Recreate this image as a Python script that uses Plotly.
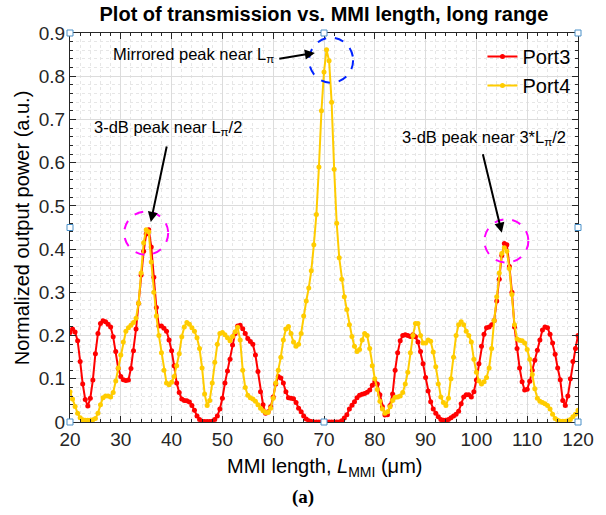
import numpy as np
import plotly.graph_objects as go

# MMI length axis (um), 0.5 um step
mmi_length = [20 + 0.5 * i for i in range(201)]

port3 = [
    0.207, 0.215, 0.208, 0.188, 0.140, 0.088, 0.052, 0.037, 0.055, 0.097,
    0.158, 0.205, 0.228, 0.234, 0.232, 0.226, 0.220, 0.197, 0.163, 0.124,
    0.105, 0.098, 0.096, 0.097, 0.124, 0.165, 0.215, 0.275, 0.340, 0.395,
    0.435, 0.445, 0.405, 0.335, 0.265, 0.222, 0.222, 0.217, 0.210, 0.190,
    0.165, 0.130, 0.090, 0.068, 0.053, 0.050, 0.049, 0.046, 0.038, 0.027,
    0.014, 0.006, 0.002, 0.001, 0.001, 0.001, 0.002, 0.006, 0.014, 0.030,
    0.055, 0.090, 0.118, 0.145, 0.178, 0.205, 0.222, 0.224, 0.216, 0.205,
    0.193, 0.186, 0.180, 0.155, 0.117, 0.070, 0.040, 0.020, 0.024, 0.035,
    0.058, 0.088, 0.105, 0.102, 0.090, 0.070, 0.056, 0.055, 0.054, 0.045,
    0.032, 0.024, 0.014, 0.007, 0.003, 0.001, 0.000, 0.000, 0.000, 0.000,
    0.000, 0.000, 0.000, 0.000, 0.000, 0.000, 0.000, 0.003, 0.009, 0.017,
    0.030, 0.039, 0.047, 0.056, 0.062, 0.064, 0.066, 0.069, 0.074, 0.085,
    0.093, 0.088, 0.063, 0.035, 0.016, 0.017, 0.038, 0.065, 0.120, 0.160,
    0.188, 0.200, 0.202, 0.200, 0.198, 0.202, 0.197, 0.185, 0.163, 0.135,
    0.103, 0.072, 0.047, 0.030, 0.020, 0.012, 0.006, 0.004, 0.004, 0.006,
    0.010, 0.014, 0.018, 0.025, 0.042, 0.058, 0.063, 0.063, 0.058, 0.070,
    0.097, 0.135, 0.175, 0.203, 0.218, 0.220, 0.225, 0.235, 0.280, 0.330,
    0.385, 0.413, 0.410, 0.360, 0.300, 0.220, 0.170, 0.125, 0.093, 0.074,
    0.076, 0.094, 0.120, 0.143, 0.166, 0.190, 0.213, 0.220, 0.218, 0.203,
    0.183, 0.157, 0.125, 0.098, 0.050, 0.038, 0.060, 0.100, 0.140, 0.170,
    0.200,
]

port4 = [
    0.070, 0.053, 0.036, 0.020, 0.010, 0.005, 0.004, 0.004, 0.004, 0.005,
    0.008, 0.020, 0.040, 0.056, 0.060, 0.060, 0.058, 0.068, 0.095, 0.125,
    0.155, 0.185, 0.210, 0.218, 0.224, 0.230, 0.240, 0.275, 0.345, 0.415,
    0.445, 0.440, 0.370, 0.300, 0.245, 0.200, 0.160, 0.120, 0.090, 0.086,
    0.092, 0.105, 0.130, 0.158, 0.197, 0.220, 0.230, 0.226, 0.218, 0.210,
    0.195, 0.170, 0.125, 0.065, 0.038, 0.050, 0.090, 0.138, 0.180, 0.205,
    0.207, 0.202, 0.195, 0.188, 0.198, 0.209, 0.219, 0.190, 0.120, 0.080,
    0.062, 0.056, 0.053, 0.048, 0.040, 0.032, 0.026, 0.022, 0.022, 0.032,
    0.055, 0.090, 0.120, 0.150, 0.190, 0.215, 0.221, 0.205, 0.185, 0.175,
    0.180, 0.205, 0.245, 0.280, 0.310, 0.350, 0.410, 0.480, 0.590, 0.720,
    0.810, 0.861, 0.836, 0.740, 0.585, 0.460, 0.380, 0.330, 0.290, 0.260,
    0.225, 0.198, 0.175, 0.163, 0.168, 0.190, 0.205, 0.200, 0.170, 0.130,
    0.100, 0.075, 0.048, 0.030, 0.020, 0.024, 0.035, 0.050, 0.057, 0.058,
    0.060, 0.068, 0.088, 0.115, 0.160, 0.200, 0.228, 0.228, 0.200, 0.183,
    0.183, 0.190, 0.187, 0.162, 0.128, 0.088, 0.058, 0.045, 0.038, 0.055,
    0.100, 0.150, 0.200, 0.225, 0.232, 0.225, 0.210, 0.200, 0.185, 0.145,
    0.115, 0.095, 0.088, 0.093, 0.103, 0.125, 0.170, 0.235, 0.290, 0.345,
    0.390, 0.403, 0.395, 0.355, 0.295, 0.225, 0.192, 0.189, 0.188, 0.183,
    0.168, 0.145, 0.110, 0.077, 0.055, 0.048, 0.045, 0.042, 0.038, 0.030,
    0.018, 0.008, 0.004, 0.002, 0.002, 0.002, 0.003, 0.006, 0.012, 0.018,
    0.027,
]

x_ticks = [20, 30, 40, 50, 60, 70, 80, 90, 100, 110, 120]
y_ticks = [0, 0.1, 0.2, 0.3, 0.4, 0.5, 0.6, 0.7, 0.8, 0.9]

RED = "#FF0000"
GOLD = "#FFCC00"
AX = "#262626"
FONT = "Liberation Sans, Arial, sans-serif"

fig = go.Figure()
fig.add_trace(go.Scatter(x=mmi_length, y=port3, mode="lines+markers", name="Port3",
                         line=dict(color=RED, width=2), marker=dict(color=RED, size=5)))
fig.add_trace(go.Scatter(x=mmi_length, y=port4, mode="lines+markers", name="Port4",
                         line=dict(color=GOLD, width=2), marker=dict(color=GOLD, size=5)))

axis_common = dict(
    showline=True, linecolor=AX, linewidth=1, mirror="allticks",
    ticks="inside", ticklen=6, tickcolor=AX, tickwidth=1,
    showgrid=True, gridcolor="#dcdcdc", gridwidth=1, zeroline=False,
    tickfont=dict(family=FONT, size=19, color=AX),
)

fig.update_xaxes(range=[20, 120], tickvals=x_ticks, ticktext=[str(v) for v in x_ticks],
                 minor=dict(dtick=2, ticks="inside", ticklen=3, tickcolor=AX,
                            showgrid=True, gridcolor="#e6e6e6", griddash="dot"),
                 **axis_common)
fig.update_yaxes(range=[0, 0.9], tickvals=y_ticks, ticktext=["0"] + [f"{v:.1f}" for v in y_ticks[1:]],
                 minor=dict(dtick=0.02, ticks="inside", ticklen=3, tickcolor=AX,
                            showgrid=True, gridcolor="#e6e6e6", griddash="dot"),
                 **axis_common)

fig.update_layout(
    width=606, height=515,
    margin=dict(l=70, r=28, t=33, b=93),
    paper_bgcolor="white", plot_bgcolor="white",
    font=dict(family=FONT, color=AX),
    title=dict(text="<b>Plot of transmission vs. MMI length, long range</b>",
               x=0.5, xref="paper", xanchor="center", y=0.972, yref="container",
               yanchor="middle", font=dict(family=FONT, size=20, color="black")),
    showlegend=True,
    legend=dict(x=0.995, y=0.99, xanchor="right", yanchor="top",
                bgcolor="rgba(255,255,255,0)", font=dict(family=FONT, size=20, color="black"),
                itemwidth=30, tracegroupgap=0),
)

annots = []
# axis titles
annots.append(dict(text="MMI length, <i>L</i><sub>MMI</sub> (μm)", xref="paper", yref="paper",
                   x=0.5, y=-0.118, xanchor="center", yanchor="middle", showarrow=False,
                   font=dict(family=FONT, size=20, color="black")))
annots.append(dict(text="Normalized output power (a.u.)", xref="paper", yref="paper",
                   x=-0.095, y=0.5, xanchor="center", yanchor="middle", textangle=-90,
                   showarrow=False, font=dict(family=FONT, size=20, color="black")))
annots.append(dict(text="<b>(a)</b>", xref="paper", yref="paper", x=0.459, y=-0.193,
                   xanchor="center", yanchor="middle", showarrow=False,
                   font=dict(family="Liberation Serif, Times New Roman, serif", size=19, color="black")))

# peak locations derived from data
p4 = np.array(port4)
xs = np.array(mmi_length)
def peak_in(lo, hi, arr):
    m = (xs >= lo) & (xs <= hi)
    i = np.argmax(np.where(m, arr, -1))
    return xs[i], arr[i]

pk_mid = peak_in(60, 80, p4)
pk_l = peak_in(30, 40, p4)
pk_r = peak_in(100, 110, np.array(port3))

txt_font = dict(family=FONT, size=16.5, color="black")
annots.append(dict(text="Mirrored peak near L<sub>π</sub>", x=60.6, y=0.848, xref="x", yref="y",
                   xanchor="right", yanchor="middle", showarrow=False, font=txt_font))
annots.append(dict(text="", x=pk_mid[0] - 2.3, y=pk_mid[1] - 0.007, ax=60.9, ay=0.840,
                   xref="x", yref="y", axref="x", ayref="y", showarrow=True,
                   arrowhead=2, arrowsize=1, arrowwidth=2, arrowcolor="black"))
annots.append(dict(text="3-dB peak near L<sub>π</sub>/2", x=39.3, y=0.68, xref="x", yref="y",
                   xanchor="center", yanchor="middle", showarrow=False, font=txt_font))
annots.append(dict(text="", x=pk_l[0] + 0.9, y=pk_l[1] + 0.018, ax=39.1, ay=0.641,
                   xref="x", yref="y", axref="x", ayref="y", showarrow=True,
                   arrowhead=2, arrowsize=1, arrowwidth=2, arrowcolor="black"))
annots.append(dict(text="3-dB peak near 3*L<sub>π</sub>/2", x=101.4, y=0.657, xref="x", yref="y",
                   xanchor="center", yanchor="middle", showarrow=False, font=txt_font))
annots.append(dict(text="", x=pk_r[0] - 0.5, y=pk_r[1] + 0.025, ax=101.2, ay=0.623,
                   xref="x", yref="y", axref="x", ayref="y", showarrow=True,
                   arrowhead=2, arrowsize=1, arrowwidth=2, arrowcolor="black"))
fig.update_layout(annotations=annots)

shapes = []
# dashed highlight circles around the peaks
def circ(cx, cy, rx, ry, color):
    return dict(type="circle", xref="x", yref="y", x0=cx - rx, x1=cx + rx, y0=cy - ry, y1=cy + ry,
                line=dict(color=color, width=2, dash="dash"))
shapes.append(circ(pk_mid[0] + 0.9, pk_mid[1] - 0.024, 4.33, 0.052, "#0022FF"))
shapes.append(circ(pk_l[0], pk_l[1] - 0.008, 4.33, 0.05, "#FF00FF"))
shapes.append(circ(pk_r[0] + 0.4, pk_r[1] + 0.006, 4.33, 0.05, "#FF00FF"))

# editing handles (small squares) on the axes box
for hx, hy in [(0, 0), (0.5, 0), (1, 0), (0, 0.5), (1, 0.5), (0, 1), (0.5, 1), (1, 1)]:
    shapes.append(dict(type="rect", xref="paper", yref="paper", xsizemode="pixel", ysizemode="pixel",
                       xanchor=hx, yanchor=hy, x0=-3, x1=3, y0=-3, y1=3,
                       line=dict(color="#4a90c8", width=1), fillcolor="white"))
fig.update_layout(shapes=shapes)

fig.write_html("out.html")
